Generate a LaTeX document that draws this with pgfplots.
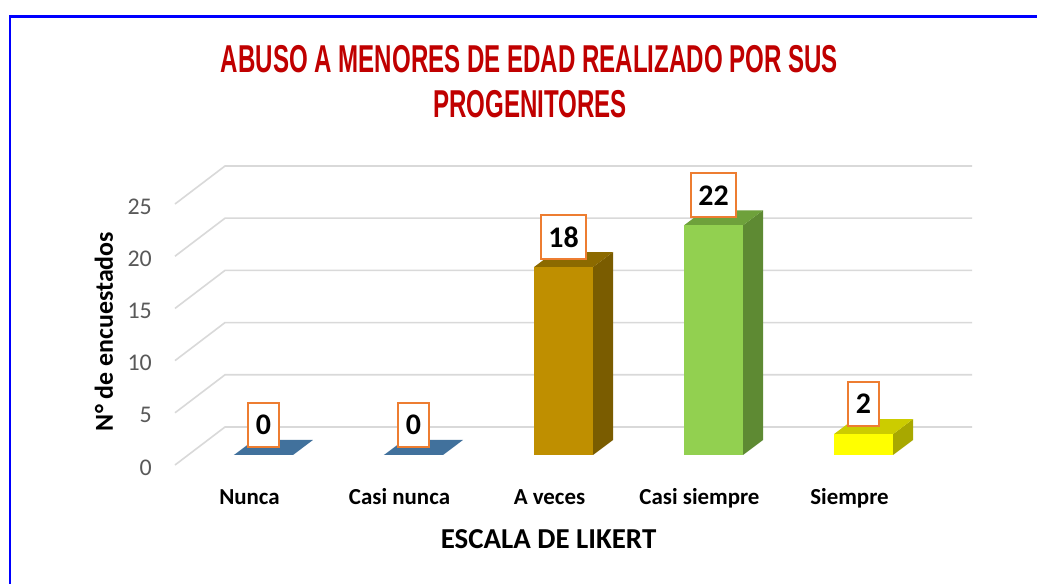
\documentclass[border=0pt]{standalone}
\usepackage{fontspec}
\setmainfont{Carlito}
\newfontfamily\titlefont[FakeStretch=0.62]{Liberation Sans}
\usepackage{pgfplots}
\pgfplotsset{compat=1.18}
\definecolor{gridgray}{HTML}{D9D9D9}
\definecolor{tickgray}{HTML}{595959}
\definecolor{titlered}{HTML}{C00000}
\definecolor{lblorange}{HTML}{ED7D31}
\definecolor{floorblue}{HTML}{41719C}
\definecolor{goldF}{HTML}{BF8F00}
\definecolor{goldT}{HTML}{8C6A00}
\definecolor{goldS}{HTML}{7A5C00}
\definecolor{greenF}{HTML}{92D050}
\definecolor{greenT}{HTML}{6EA13B}
\definecolor{greenS}{HTML}{5E8A33}
\definecolor{yelF}{HTML}{FFFF00}
\definecolor{yelT}{HTML}{CCCC00}
\definecolor{yelS}{HTML}{A8A800}
\pgfplotsset{
  lbl/.style={nodes near coords,
    every node near coord/.append style={draw=lblorange, line width=2bp, fill=white,
      font=\bfseries\fontsize{30}{30}\selectfont, text=black, anchor=center,
      yshift=30bp, minimum height=44bp, inner xsep=7.5bp}},
  front/.style={ybar, bar width=59bp, bar shift=0pt, draw=none, fill=#1, lbl},
}
\begin{document}
\begin{tikzpicture}
\useasboundingbox (0,0) rectangle (1037bp,584bp);
\fill[white] (0,0) rectangle (1037bp,584bp);
\draw[blue, line width=2.5bp] (10bp,-2bp) -- (10bp,567.5bp) -- (1040bp,567.5bp);
\node[anchor=base, text=titlered, font=\titlefont\bfseries\fontsize{39}{39}\selectfont] at (529.5bp,511bp) {ABUSO A MENORES DE EDAD REALIZADO POR SUS};
\node[anchor=base, text=titlered, font=\titlefont\bfseries\fontsize{39}{39}\selectfont] at (530bp,466bp) {PROGENITORES};
\begin{axis}[
  at={(152bp,118.56bp)}, anchor=south west,
  scale only axis, width=828bp, height=302.76bp,
  xmin=-0.7433, xmax=4.7767, ymin=-1, ymax=28,
  clip=false,
  axis line style={draw=none},
  major tick length=0pt,
  /pgf/number format/assume math mode=true,
  xtick={0,1,2,3,4},
  xticklabels={Nunca,Casi nunca,A veces,Casi siempre,Siempre},
  ytick={0,5,10,15,20,25},
  xticklabel style={anchor=base, yshift=-39.5bp, xshift=-14bp, font=\bfseries\fontsize{23}{23}\selectfont},
  yticklabel style={anchor=east, inner sep=0pt, yshift=-12.5bp, text=tickgray, font=\fontsize{24}{24}\selectfont},
  xlabel={ESCALA DE LIKERT},
  ylabel={N° de encuestados},
  every axis x label/.style={at={(rel axis cs:0.4789,-0.2727)}, anchor=base, font=\bfseries\fontsize{29}{29}\selectfont},
  every axis y label/.style={at={(rel axis cs:-0.0471,0.4424)}, rotate=90, anchor=base, font=\bfseries\fontsize{26}{26}\selectfont},
]
% gridlines: side wall diagonal + back wall
\addplot[gridgray, line width=1.6bp] coordinates {(-0.59,-0.958) (-0.2567,2.682) (4.7233,2.682)};
\addplot[gridgray, line width=1.6bp] coordinates {(-0.59,4.042) (-0.2567,7.682) (4.7233,7.682)};
\addplot[gridgray, line width=1.6bp] coordinates {(-0.59,9.042) (-0.2567,12.682) (4.7233,12.682)};
\addplot[gridgray, line width=1.6bp] coordinates {(-0.59,14.042) (-0.2567,17.682) (4.7233,17.682)};
\addplot[gridgray, line width=1.6bp] coordinates {(-0.59,19.042) (-0.2567,22.682) (4.7233,22.682)};
\addplot[gridgray, line width=1.6bp] coordinates {(-0.59,24.042) (-0.2567,27.682) (4.7233,27.682)};
% Nunca (0)
\addplot[fill=floorblue, draw=none] coordinates {(-0.1967,0) (0.1967,0) (0.33,1.437) (-0.0633,1.437)};
\addplot[front=floorblue] coordinates {(0,0)};
% Casi nunca (0)
\addplot[fill=floorblue, draw=none] coordinates {(0.8033,0) (1.1967,0) (1.33,1.437) (0.9367,1.437)};
\addplot[front=floorblue] coordinates {(1,0)};
% A veces (18)
\addplot[fill=goldS, draw=none] coordinates {(2.1967,0) (2.33,1.437) (2.33,19.437) (2.1967,18)};
\addplot[fill=goldT, draw=none] coordinates {(1.8033,18) (2.1967,18) (2.33,19.437) (1.9367,19.437)};
\addplot[front=goldF] coordinates {(2,18)};
% Casi siempre (22)
\addplot[fill=greenS, draw=none] coordinates {(3.1967,0) (3.33,1.437) (3.33,23.437) (3.1967,22)};
\addplot[fill=greenT, draw=none] coordinates {(2.8033,22) (3.1967,22) (3.33,23.437) (2.9367,23.437)};
\addplot[front=greenF] coordinates {(3,22)};
% Siempre (2)
\addplot[fill=yelS, draw=none] coordinates {(4.1967,0) (4.33,1.437) (4.33,3.437) (4.1967,2)};
\addplot[fill=yelT, draw=none] coordinates {(3.8033,2) (4.1967,2) (4.33,3.437) (3.9367,3.437)};
\addplot[front=yelF] coordinates {(4,2)};
\end{axis}
\end{tikzpicture}
\end{document}
